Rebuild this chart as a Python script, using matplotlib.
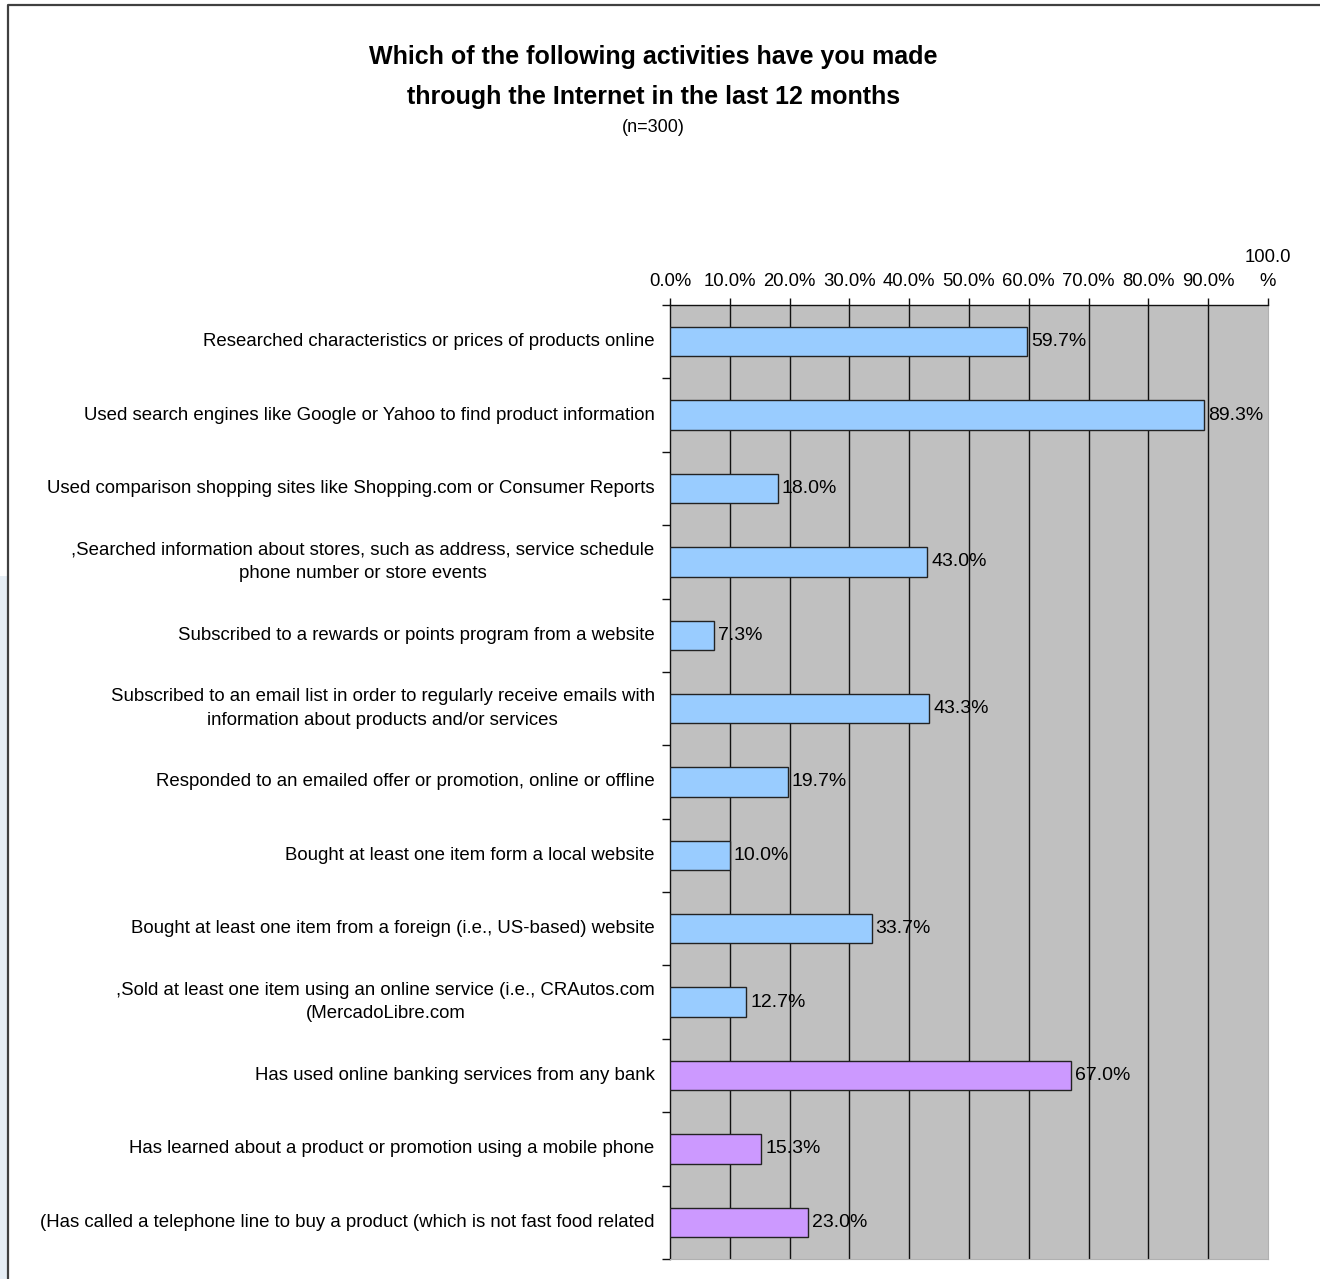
import matplotlib
matplotlib.use("Agg")
import matplotlib.pyplot as plt
import matplotlib.transforms as mtransforms
from matplotlib.lines import Line2D
import numpy as np

plt.rcParams['font.family'] = ['Liberation Sans', 'DejaVu Sans']

categories = [
    "Researched characteristics or prices of products online",
    "Used search engines like Google or Yahoo to find product information",
    "Used comparison shopping sites like Shopping.com or Consumer Reports",
    ",Searched information about stores, such as address, service schedule\nphone number or store events",
    "Subscribed to a rewards or points program from a website",
    "Subscribed to an email list in order to regularly receive emails with\ninformation about products and/or services",
    "Responded to an emailed offer or promotion, online or offline",
    "Bought at least one item form a local website",
    "Bought at least one item from a foreign (i.e., US-based) website",
    ",Sold at least one item using an online service (i.e., CRAutos.com\n(MercadoLibre.com",
    "Has used online banking services from any bank",
    "Has learned about a product or promotion using a mobile phone",
    "(Has called a telephone line to buy a product (which is not fast food related",
]
values = [59.7, 89.3, 18.0, 43.0, 7.3, 43.3, 19.7, 10.0, 33.7, 12.7, 67.0, 15.3, 23.0]
groups = ["shopping"] * 10 + ["other"] * 3
group_colors = {"shopping": "#99CCFF", "other": "#CC99FF"}
xtick_vals = np.arange(0, 101, 10)
xtick_labels = ["%.1f%%" % v for v in xtick_vals[:-1]] + ["100.0\n%"]

fig = plt.figure(figsize=(13.2, 12.79), dpi=100)
ax = fig.add_axes([670 / 1320, 1 - 1259 / 1279, 598 / 1320, 954 / 1279])
ax.set_facecolor("#C0C0C0")

y = np.arange(len(categories))
colors = [group_colors[g] for g in groups]
ax.barh(y, values, height=0.4, color=colors, edgecolor="#222222", linewidth=1.0, zorder=3)

for v in xtick_vals[1:-1]:
    ax.axvline(v, color="#111111", linewidth=1.0, zorder=1)

ax.set_xlim(0, 100)
ax.set_ylim(len(categories) - 0.5, -0.5)

ax.xaxis.tick_top()
ax.set_xticks(xtick_vals)
ax.set_xticklabels(xtick_labels, fontsize=13.3, linespacing=1.5)
ax.tick_params(axis="x", direction="out", length=5, width=1, pad=6, color="#111111")

ax.set_yticks(np.arange(len(categories) + 1) - 0.5)
ax.set_yticklabels([])
ax.tick_params(axis="y", direction="out", length=6, width=1, color="#111111")

for s in ["left", "top"]:
    ax.spines[s].set_color("#111111")
    ax.spines[s].set_linewidth(1.0)
for s in ["right", "bottom"]:
    ax.spines[s].set_color("#B0B0B0")

label_tr = mtransforms.blended_transform_factory(ax.transAxes, ax.transData)
for yi, cat in zip(y, categories):
    ax.annotate(cat, xy=(0, yi), xycoords=label_tr, xytext=(-11, 0),
                textcoords="offset points", ha="right", va="center",
                multialignment="center", fontsize=13.4, linespacing=1.5)

for yi, v in zip(y, values):
    ax.annotate("%.1f%%" % v, xy=(v, yi), xytext=(3, 0), textcoords="offset points",
                ha="left", va="center", fontsize=14, zorder=4)

fig.text(0.495, 1 - 57 / 1279, "Which of the following activities have you made",
         ha="center", va="center", fontsize=18, fontweight="bold")
fig.text(0.495, 1 - 97 / 1279, "through the Internet in the last 12 months",
         ha="center", va="center", fontsize=18, fontweight="bold")
fig.text(0.495, 1 - 127 / 1279, "(n=300)", ha="center", va="center", fontsize=13)

# outer frame (left and top edges visible)
fig.add_artist(Line2D([8 / 1320, 8 / 1320, 1.0], [0.0, 1 - 5 / 1279, 1 - 5 / 1279],
                      transform=fig.transFigure, color="#404040", linewidth=1.6))
fig.add_artist(plt.Rectangle((0, 0), 7 / 1320, 0.55, transform=fig.transFigure,
                             facecolor="#E6EEF5", edgecolor="none"))

fig.savefig("out.png", dpi=100)
